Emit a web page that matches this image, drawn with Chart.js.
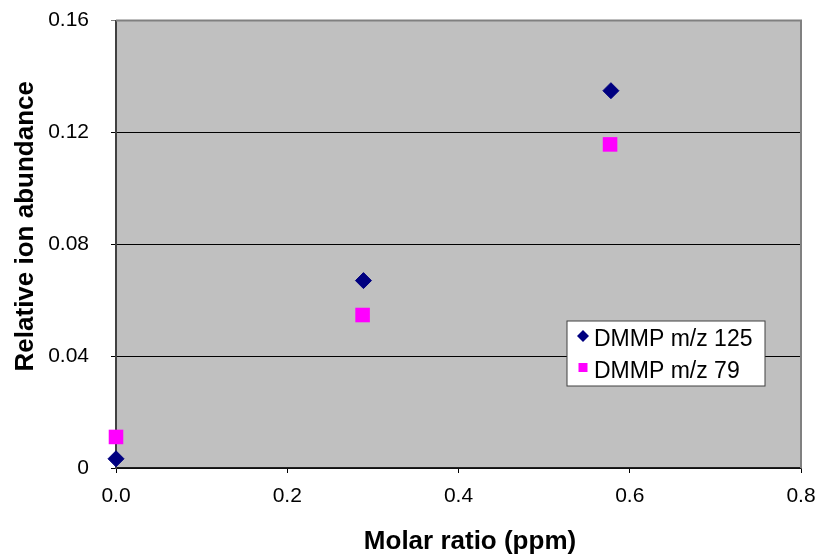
<!DOCTYPE html>
<html>
<head>
<meta charset="utf-8">
<script src="https://cdn.jsdelivr.net/npm/chart.js@4"></script>
<style>
  html, body { margin: 0; padding: 0; background: #fff; }
  #wrap { width: 817px; height: 555px; }
</style>
</head>
<body>
<div id="wrap"><canvas id="chart" width="817" height="555"></canvas></div>
<script>
const seriesNames = ["DMMP m/z 125", "DMMP m/z 79"];

const ratio125 = [0, 0.289, 0.578];
const abundance125 = [0.0033, 0.067, 0.1349];

const ratio79 = [0, 0.288, 0.577];
const abundance79 = [0.0111, 0.0547, 0.1157];

const xTicks = [0, 0.2, 0.4, 0.6, 0.8];
const yTicks = [0, 0.04, 0.08, 0.12, 0.16];

const xTitle = "Molar ratio (ppm)";
const yTitle = "Relative ion abundance";

const FONT = "'Liberation Sans', Arial, sans-serif";

/* gray plot area + borders */
const plotArea = {
  id: "plotArea",
  beforeDraw(chart) {
    const { ctx, chartArea: a } = chart;
    ctx.save();
    ctx.fillStyle = "#c0c0c0";
    ctx.fillRect(a.left, a.top, a.right - a.left, a.bottom - a.top);
    ctx.restore();
  },
  beforeDatasetsDraw(chart) {
    const { ctx, chartArea: a } = chart;
    ctx.save();
    ctx.strokeStyle = "#808080";
    ctx.lineWidth = 2;
    ctx.beginPath();
    ctx.moveTo(a.left, a.top);
    ctx.lineTo(a.right, a.top);
    ctx.lineTo(a.right, a.bottom);
    ctx.stroke();
    ctx.restore();
  },
};

/* axis titles, placed like the original (not exactly centred) */
const axisTitles = {
  id: "axisTitles",
  afterDraw(chart) {
    const { ctx, chartArea: a } = chart;
    const midX = (a.left + a.right) / 2;
    const midY = (a.top + a.bottom) / 2;
    ctx.save();
    ctx.fillStyle = "#000";
    ctx.font = "bold 26px " + FONT;
    ctx.textAlign = "center";
    ctx.textBaseline = "alphabetic";
    ctx.fillText(xTitle, midX + 11.5, a.bottom + 81);

    ctx.translate(33, midY - 18);
    ctx.rotate(-Math.PI / 2);
    ctx.fillText(yTitle, 0, 0);
    ctx.restore();
  },
};

/* legend box inside the plot */
const boxLegend = {
  id: "boxLegend",
  afterDraw(chart) {
    const { ctx, chartArea: a } = chart;
    const x = a.right - 234;
    const y = a.top + 300.5;
    ctx.save();
    ctx.fillStyle = "#fff";
    ctx.fillRect(x, y, 198, 65);
    ctx.strokeStyle = "#404040";
    ctx.lineWidth = 1;
    ctx.strokeRect(x, y, 198, 65);

    // diamond
    const ds0 = chart.data.datasets[0];
    ctx.fillStyle = ds0.backgroundColor;
    ctx.beginPath();
    ctx.moveTo(x + 16 - 6, y + 15);
    ctx.lineTo(x + 16, y + 9);
    ctx.lineTo(x + 16 + 6, y + 15);
    ctx.lineTo(x + 16, y + 21);
    ctx.closePath();
    ctx.fill();

    // square
    const ds1 = chart.data.datasets[1];
    ctx.fillStyle = ds1.backgroundColor;
    ctx.fillRect(x + 11.5, y + 42, 9, 9);

    ctx.fillStyle = "#000";
    ctx.font = "23px " + FONT;
    ctx.textBaseline = "alphabetic";
    ctx.fillText(ds0.label, x + 27, y + 25);
    ctx.fillText(ds1.label, x + 27, y + 57);
    ctx.restore();
  },
};

function toPoints(xs, ys) {
  return xs.map((x, i) => ({ x: x, y: ys[i] }));
}

// scales should not push the plot area in; layout padding decides
function noScalePadding(scale) {
  scale.paddingTop = 0;
  scale.paddingBottom = 0;
  scale.paddingLeft = 0;
  scale.paddingRight = 0;
}

const ctx = document.getElementById("chart").getContext("2d");

new Chart(ctx, {
  type: "scatter",
  data: {
    datasets: [
      {
        label: seriesNames[0],
        data: toPoints(ratio125, abundance125),
        pointStyle: "rectRot",
        pointRadius: 8,
        pointHoverRadius: 8,
        backgroundColor: "#000080",
        borderColor: "#000080",
        borderWidth: 1,
        clip: false,
      },
      {
        label: seriesNames[1],
        data: toPoints(ratio79, abundance79),
        pointStyle: "rect",
        pointRadius: 10.3,
        pointHoverRadius: 10.3,
        backgroundColor: "#ff00ff",
        borderColor: "#ff00ff",
        borderWidth: 0,
        clip: false,
      },
    ],
  },
  options: {
    responsive: false,
    animation: false,
    events: [],
    layout: { padding: { left: 0, right: 16, top: 20.5, bottom: 0 } },
    plugins: {
      legend: { display: false },
      tooltip: { enabled: false },
    },
    scales: {
      x: {
        type: "linear",
        min: xTicks[0],
        max: xTicks[xTicks.length - 1],
        afterBuildTicks: (scale) => {
          scale.ticks = xTicks.map((v) => ({ value: v }));
        },
        afterFit: (scale) => {
          scale.height = 87;
          noScalePadding(scale);
        },
        ticks: {
          color: "#000",
          font: { family: FONT, size: 21 },
          padding: 11,
          maxRotation: 0,
          callback: (v) => Number(v).toFixed(1),
        },
        grid: {
          drawOnChartArea: false,
          color: "#000",
          tickLength: 5,
        },
        border: { color: "#202020", width: 1.5 },
      },
      y: {
        type: "linear",
        min: yTicks[0],
        max: yTicks[yTicks.length - 1],
        afterBuildTicks: (scale) => {
          scale.ticks = yTicks.map((v) => ({ value: v }));
        },
        afterFit: (scale) => {
          scale.width = 116;
          noScalePadding(scale);
        },
        ticks: {
          color: "#000",
          font: { family: FONT, size: 21 },
          padding: 22,
          callback: (v) => String(Number(v.toFixed(2))),
        },
        grid: {
          color: (c) => (c.tick && c.tick.value === 0.16 ? "#808080" : "#000"),
          tickLength: 5,
        },
        border: { color: "#404040", width: 2 },
      },
    },
  },
  plugins: [plotArea, axisTitles, boxLegend],
});
</script>
</body>
</html>
